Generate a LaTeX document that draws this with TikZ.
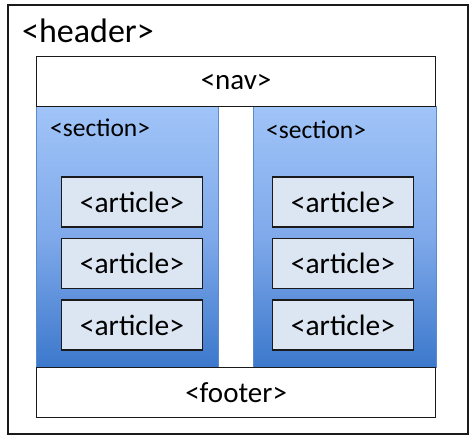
\documentclass[tikz,border=0pt]{standalone}
\usepackage{fontspec}
\setmainfont{Carlito}
\definecolor{secTop}{HTML}{A0C4F8}
\definecolor{secMid}{HTML}{7FA9EA}
\definecolor{secBot}{HTML}{3C78CC}
\definecolor{secEdge}{HTML}{5B8BC9}
\definecolor{artFill}{HTML}{DCE6F2}
\definecolor{edge}{HTML}{1A1A1A}
\tikzset{
  boxw/.style={draw=edge, line width=1.2pt, fill=white},
  secbox/.style={draw=secEdge, line width=0.6pt, top color=secTop, bottom color=secBot, middle color=secMid},
  artbox/.style={draw=edge, line width=1.2pt, fill=artFill, minimum width=141pt, minimum height=50pt, inner sep=0pt, font=\fontsize{29.5}{30}\selectfont},
  lbl/.style={inner sep=0pt},
}
\begin{document}
\begin{tikzpicture}[x=1pt,y=-1pt]
\useasboundingbox (0,0) rectangle (474,445);
\fill[white] (0,0) rectangle (474,445);
% outer header box
\node[boxw, line width=1.5pt, minimum width=460pt, minimum height=429pt, inner sep=0pt, anchor=north west] (outer) at (7,4) {};
\node[lbl, anchor=base west, font=\fontsize{34}{35}\selectfont] (htxt) at (22,42) {<header>};
% sections
\node[secbox, minimum width=182pt, minimum height=261pt, inner sep=0pt, anchor=north west] (secL) at (36,106) {};
\node[secbox, minimum width=183pt, minimum height=261pt, inner sep=0pt, anchor=north west] (secR) at (253,106) {};
\node[lbl, anchor=base west, font=\fontsize{25.5}{26}\selectfont] (stL) at (50,136) {<section>};
\node[lbl, anchor=base west, font=\fontsize{25.5}{26}\selectfont] (stR) at (266,138) {<section>};
% nav and footer
\node[boxw, minimum width=399pt, minimum height=50pt, inner sep=0pt, anchor=north west, font=\fontsize{29}{30}\selectfont] (nav) at (36,56) {<nav>};
\node[boxw, minimum width=399pt, minimum height=50pt, inner sep=0pt, anchor=north west, font=\fontsize{29}{30}\selectfont] (footer) at (36,367) {<footer>};
% articles
\node[artbox] (aL1) at (132,202) {<article>};
\node[artbox] (aL2) at (132,263.5) {<article>};
\node[artbox] (aL3) at (132,325) {<article>};
\node[artbox] (aR1) at (343,202) {<article>};
\node[artbox] (aR2) at (343,263.5) {<article>};
\node[artbox] (aR3) at (343,325) {<article>};
\end{tikzpicture}
\end{document}
